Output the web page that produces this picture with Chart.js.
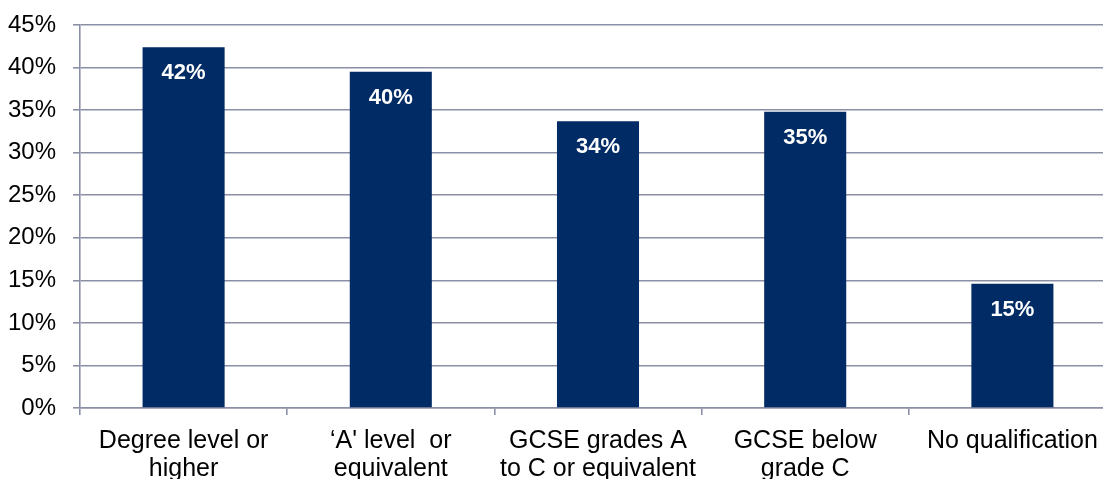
<!DOCTYPE html>
<html>
<head>
<meta charset="utf-8">
<script src="https://cdn.jsdelivr.net/npm/chart.js@4"></script>
<style>
  html, body { margin: 0; padding: 0; background: #fff; overflow: hidden; }
  #wrap { width: 1120px; height: 479px; position: relative; }
</style>
</head>
<body>
<div id="wrap"><canvas id="chartQual"></canvas></div>
<script>
const categories = [
    ['Degree level or', 'higher'],
    ['\u2018A\' level  or', 'equivalent'],
    ['GCSE grades A', 'to C or equivalent'],
    ['GCSE below', 'grade C'],
    'No qualification'
];
const shares = [42.4, 39.5, 33.7, 34.8, 14.6];
const yTicks = [0, 5, 10, 15, 20, 25, 30, 35, 40, 45];

const gridColor = '#8b8fa5';
const barColor = '#002b64';
const fontFamily = "'Liberation Sans', Arial, sans-serif";

// white percentage text near the top of each bar
const barLabels = {
    id: 'barLabels',
    afterDatasetsDraw(chart) {
        const ctx = chart.ctx;
        const meta = chart.getDatasetMeta(0);
        ctx.save();
        ctx.fillStyle = '#ffffff';
        ctx.font = 'bold 22px ' + fontFamily;
        ctx.textAlign = 'center';
        ctx.textBaseline = 'middle';
        meta.data.forEach((bar, i) => {
            ctx.fillText(Math.round(shares[i]) + '%', bar.x, bar.y + 26);
        });
        ctx.restore();
    }
};

new Chart(document.getElementById('chartQual').getContext('2d'), {
    type: 'bar',
    data: {
        labels: categories,
        datasets: [{
            data: shares,
            backgroundColor: barColor,
            borderWidth: 0,
            barPercentage: 0.396,
            categoryPercentage: 1
        }]
    },
    options: {
        responsive: true,
        maintainAspectRatio: false,
        animation: false,
        layout: { padding: { top: 25, right: 4, left: 0, bottom: 0 } },
        plugins: {
            legend: { display: false },
            tooltip: { enabled: false }
        },
        scales: {
            y: {
                min: 0,
                max: 45,
                afterFit: (scale) => {
                    scale.width = 80;
                    scale.paddingTop = 0;
                    scale.paddingBottom = 0;
                },
                afterBuildTicks: (scale) => { scale.ticks = yTicks.map(v => ({ value: v })); },
                grid: { color: gridColor, lineWidth: 1.6, tickLength: 7 },
                border: { color: gridColor, width: 1.6 },
                ticks: {
                    padding: 17,
                    color: '#000',
                    font: { family: fontFamily, size: 24 },
                    callback: (v) => v + '%'
                }
            },
            x: {
                afterFit: (scale) => { scale.height = 71; },
                grid: { drawOnChartArea: false, color: gridColor, lineWidth: 1.6, tickLength: 7 },
                border: { color: gridColor, width: 1.6 },
                ticks: {
                    padding: 12,
                    maxRotation: 0,
                    autoSkip: false,
                    color: '#000',
                    font: { family: fontFamily, size: 25, lineHeight: 1.12 }
                }
            }
        }
    },
    plugins: [barLabels]
});
</script>
</body>
</html>
